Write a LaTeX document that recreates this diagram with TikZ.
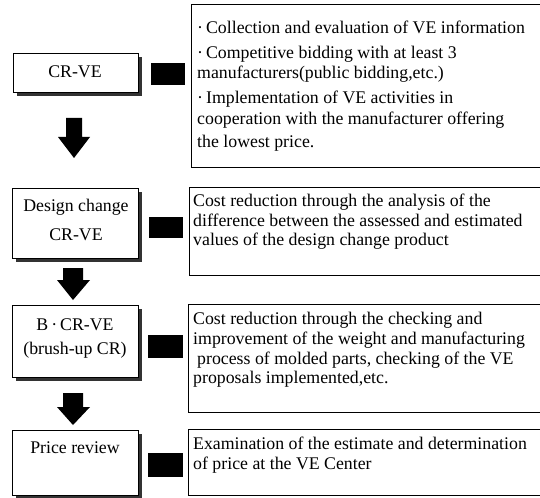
\documentclass[tikz,border=0pt]{standalone}
\usepackage{fontspec}
\setmainfont{Liberation Serif}
\begin{document}
\begin{tikzpicture}[x=1bp,y=-1bp,
  lbox/.style={draw=black,line width=0.8bp,fill=white,inner sep=0},
  shadowbox/.style={fill=black!80},
  sq/.style={fill=black,inner sep=0},
  rbox/.style={draw=black,line width=1bp,inner sep=0},
  tl/.style={anchor=base west,inner sep=0,font=\fontsize{17.8bp}{20bp}\selectfont},
  tc/.style={anchor=base,inner sep=0,font=\fontsize{17.8bp}{20bp}\selectfont},
  blockarrow/.style={fill=black}]
\useasboundingbox (0,0) rectangle (540,498);
\clip (0,0) rectangle (540,498);
% left boxes with drop shadows
\fill[shadowbox] (17,57) rectangle (142,96);
\node[lbox,minimum width=125bp,minimum height=39bp] (crve) at (75.5,72.5) {};
\fill[shadowbox] (16,192) rectangle (142,262);
\node[lbox,minimum width=126bp,minimum height=70bp] (design) at (75,223) {};
\fill[shadowbox] (16,309) rectangle (142,381);
\node[lbox,minimum width=126bp,minimum height=72bp] (bcrve) at (75,341) {};
\fill[shadowbox] (16,434) rectangle (142,499);
\node[lbox,minimum width=126bp,minimum height=65bp] (price) at (75,462.5) {};
% left texts
\node[tc] (crvet) at (75,78) {CR-VE};
\node[tc] (designt1) at (76,212) {Design change};
\node[tc] (designt2) at (76,240) {CR-VE};
\node[tc] (bcrvet1) at (75,330) {B\,·\,CR-VE};
\node[tc] (bcrvet2) at (75,354) {(brush-up CR)};
\node[tc] (pricet) at (75,453) {Price review};
% black squares
\node[sq,minimum width=34bp,minimum height=22bp] (sq1) at (168,74) {};
\node[sq,minimum width=34bp,minimum height=21bp] (sq2) at (166,227.5) {};
\node[sq,minimum width=35bp,minimum height=23bp] (sq3) at (165,346.5) {};
\node[sq,minimum width=35bp,minimum height=24bp] (sq4) at (165,465) {};
% right boxes
\draw[rbox] (191,5) rectangle (560,168);
\draw[rbox] (189,188) rectangle (560,275);
\draw[rbox] (188,304) rectangle (560,412);
\draw[rbox] (188,429) rectangle (560,495);
% right texts
\node[tl] (a1) at (197,34) {·\,Collection and evaluation of VE information};
\node[tl] (a2) at (197,59) {·\,Competitive bidding with at least 3};
\node[tl] (a3) at (197,79) {manufacturers(public bidding,etc.)};
\node[tl] (a4) at (197,104) {·\,Implementation of VE activities in};
\node[tl] (a5) at (197,125) {cooperation with the manufacturer offering};
\node[tl] (a6) at (197,148) {the lowest price.};
\node[tl] (b1) at (193,207) {Cost reduction through the analysis of the};
\node[tl] (b2) at (193,226) {difference between the assessed and estimated};
\node[tl] (b3) at (193,245) {values of the design change product};
\node[tl] (c1) at (193,324) {Cost reduction through the checking and};
\node[tl] (c2) at (193,344) {improvement of the weight and manufacturing};
\node[tl] (c3) at (197,364) {process of molded parts, checking of the VE};
\node[tl] (c4) at (193,383) {proposals implemented,etc.};
\node[tl] (d1) at (193,449) {Examination of the estimate and determination};
\node[tl] (d2) at (193,469) {of price at the VE Center};
% block arrows
\coordinate (ar1) at (74,118);
\coordinate (ar2) at (73,268);
\coordinate (ar3) at (73,393);
\fill[blockarrow] (ar1) ++(-8,0) -- ++(16,0) -- ++(0,19) -- ++(8,0) -- (74,158) -- (58,137) -- ++(8,0) -- cycle;
\fill[blockarrow] (ar2) ++(-10,0) -- ++(20,0) -- ++(0,12) -- ++(7,0) -- (73,300) -- (57,280) -- ++(6,0) -- cycle;
\fill[blockarrow] (ar3) ++(-10,0) -- ++(20,0) -- ++(0,14) -- ++(7,0) -- (73,425) -- (57,407) -- ++(6,0) -- cycle;
\end{tikzpicture}
\end{document}
